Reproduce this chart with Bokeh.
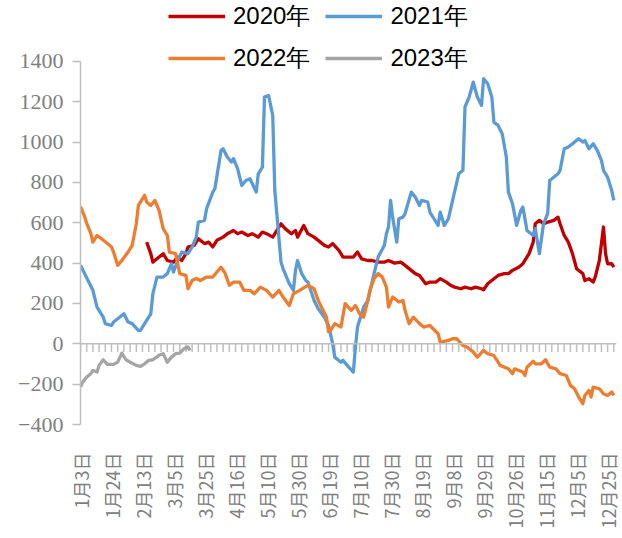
import math
from bokeh.plotting import figure
from bokeh.models import Range1d, FixedTicker, Legend, LegendItem, Span
from bokeh.embed import file_html
from bokeh.resources import INLINE

# ---- category labels (trading-day index of each label = position * 15) ----
date_labels = ["1月3日", "1月24日", "2月13日", "3月5日", "3月25日", "4月16日",
               "5月10日", "5月30日", "6月19日", "7月10日", "7月30日", "8月19日",
               "9月8日", "9月29日", "10月26日", "11月15日", "12月5日", "12月25日"]
label_step = 15
n_days = 259
y_ticks = [-400, -200, 0, 200, 400, 600, 800, 1000, 1200, 1400]

# ---- 2020 ----
day_2020 = [32, 34, 35, 38, 40, 42, 45, 47, 49, 51, 52, 55, 57, 58, 60, 62, 64, 66, 69, 71,
            74, 76, 78, 81, 83, 86, 88, 90, 93, 95, 97, 99, 102, 104, 105, 108, 110, 113, 115, 118,
            120, 122, 125, 127, 130, 132, 134, 136, 139, 141, 144, 147, 149, 152, 155, 157, 160, 162, 164, 167,
            169, 172, 174, 177, 179, 181, 184, 186, 189, 191, 194, 195, 197, 200, 202, 205, 207, 209, 212, 214,
            217, 219, 220, 222, 224, 226, 229, 231, 232, 234, 236, 238, 240, 243, 244, 246, 248, 249, 251, 253,
            254, 255, 257, 258]
val_2020 = [504, 447, 405, 430, 447, 413, 405, 430, 413, 447, 480, 488, 521, 513, 497, 504, 480, 513, 529, 546,
            562, 546, 554, 537, 546, 529, 554, 546, 529, 562, 595, 571, 546, 562, 529, 587, 546, 529, 513, 488,
            480, 497, 463, 430, 430, 430, 455, 421, 413, 413, 405, 405, 413, 400, 405, 389, 364, 348, 339, 298,
            306, 306, 323, 306, 290, 281, 273, 281, 273, 281, 273, 268, 298, 323, 339, 348, 348, 364, 380, 397,
            447, 504, 595, 612, 595, 603, 612, 628, 595, 537, 504, 447, 372, 348, 314, 323, 306, 331, 413, 579,
            447, 397, 397, 380]

# ---- 2021 ----
day_2021 = [0, 2, 4, 6, 8, 11, 12, 15, 16, 18, 21, 23, 25, 28, 29, 31, 34, 35, 37, 40,
            42, 44, 45, 47, 49, 52, 54, 56, 57, 60, 61, 64, 65, 68, 69, 71, 73, 74, 76, 78,
            80, 82, 85, 86, 88, 89, 91, 93, 94, 97, 98, 101, 103, 104, 105, 107, 109, 110, 113, 115,
            118, 120, 122, 123, 126, 127, 129, 132, 133, 134, 137, 139, 142, 144, 147, 148, 149, 150, 151, 153,
            154, 156, 157, 160, 162, 164, 165, 168, 169, 171, 173, 174, 176, 178, 180, 183, 185, 186, 188, 190,
            192, 194, 195, 197, 199, 200, 202, 204, 206, 207, 209, 211, 213, 214, 216, 219, 220, 222, 224, 226,
            227, 231, 232, 234, 236, 239, 241, 243, 244, 246, 248, 250, 252, 253, 255, 257, 258]
val_2021 = [389, 348, 306, 265, 182, 132, 100, 91, 108, 124, 149, 108, 100, 66, 66, 100, 149, 248, 331, 331,
            348, 397, 356, 413, 455, 447, 480, 529, 603, 612, 670, 752, 769, 959, 967, 926, 901, 918, 868, 785,
            810, 818, 752, 843, 876, 1223, 1231, 1132, 760, 405, 372, 298, 265, 364, 413, 348, 314, 306, 215, 174,
            132, 91, 0, -66, -91, -82, -107, -140, -16, 83, 182, 215, 348, 430, 488, 546, 579, 711, 628, 504,
            620, 628, 645, 752, 727, 686, 711, 703, 653, 620, 587, 653, 587, 620, 711, 843, 860, 1174, 1223, 1297,
            1223, 1182, 1314, 1289, 1223, 1099, 1083, 1041, 926, 752, 694, 587, 661, 678, 562, 537, 571, 447, 595, 645,
            810, 843, 860, 967, 976, 1000, 1017, 1000, 1008, 967, 992, 959, 909, 860, 826, 760, 711]

# ---- 2022 ----
day_2022 = [0, 2, 3, 5, 6, 8, 10, 13, 15, 16, 18, 20, 23, 25, 27, 28, 31, 32, 34, 36,
            38, 40, 42, 43, 46, 48, 51, 52, 54, 56, 58, 61, 64, 68, 70, 72, 74, 77, 79, 82,
            84, 87, 90, 93, 96, 98, 101, 103, 106, 110, 113, 115, 119, 120, 121, 123, 126, 128, 131, 133,
            135, 137, 139, 140, 142, 144, 146, 148, 149, 151, 154, 156, 157, 159, 161, 164, 166, 169, 173, 174,
            178, 180, 182, 185, 187, 190, 192, 195, 197, 200, 203, 207, 209, 210, 214, 215, 216, 219, 220, 223,
            225, 227, 230, 232, 235, 237, 239, 241, 243, 244, 246, 247, 248, 251, 253, 255, 257, 258]
val_2022 = [680, 630, 597, 547, 504, 537, 522, 497, 480, 455, 389, 413, 455, 488, 595, 686, 736, 703, 686, 711,
            661, 571, 537, 455, 447, 348, 339, 273, 314, 324, 314, 331, 331, 380, 349, 290, 306, 306, 265, 265,
            248, 281, 265, 232, 265, 232, 190, 248, 265, 290, 273, 215, 132, 60, 66, 100, 83, 199, 166, 190,
            149, 132, 215, 265, 323, 348, 331, 281, 182, 232, 207, 215, 166, 100, 132, 100, 83, 91, 50, 8,
            17, 25, 25, -8, -16, -41, -66, -33, -49, -58, -107, -124, -148, -124, -140, -157, -116, -86, -99, -99,
            -79, -116, -124, -148, -157, -206, -223, -264, -297, -256, -231, -264, -215, -223, -247, -256, -239, -256]

# ---- 2023 ----
day_2023 = [0, 1, 3, 5, 6, 8, 9, 11, 13, 16, 18, 20, 22, 24, 27, 29, 31, 33, 35, 38,
            40, 42, 44, 46, 48, 50, 52, 53]
val_2023 = [-214, -190, -165, -148, -132, -140, -107, -79, -102, -102, -91, -46, -79, -91, -107, -112, -99, -82, -79, -57,
            -49, -91, -66, -49, -46, -25, -16, -33]

series = [("2020年", day_2020, val_2020, "#C00000"),
          ("2021年", day_2021, val_2021, "#5B9BD5"),
          ("2022年", day_2022, val_2022, "#ED7D31"),
          ("2023年", day_2023, val_2023, "#A5A5A5")]

# frame reaches the top of the canvas so the legend (drawn inside it) is not clipped;
# the y range above 1400 only holds the legend
p = figure(width=622, height=538, output_backend="svg", toolbar_location=None,
           x_range=Range1d(0, 259.3), y_range=Range1d(-400, 1702),
           min_border_left=80, min_border_top=0, min_border_bottom=114, min_border_right=6)
p.outline_line_color = None
p.grid.visible = False
p.background_fill_color = "white"
p.border_fill_color = "white"

axis_gray = "#BFBFBF"
# zero line with small category tick marks hanging down
p.add_layout(Span(location=0, dimension="width", line_color=axis_gray, line_width=1.5))
tick_days = list(range(0, n_days, 3))
p.segment(x0=tick_days, y0=[0] * len(tick_days), x1=tick_days, y1=[-40] * len(tick_days),
          line_color=axis_gray, line_width=1.5)

renderers = {}
for name, d, v, c in series:
    renderers[name] = p.line(d, v, line_color=c, line_width=3.3, line_join="round")

# y axis
p.yaxis.ticker = FixedTicker(ticks=y_ticks)
p.yaxis.bounds = (y_ticks[0], y_ticks[-1])
p.yaxis.axis_line_color = axis_gray
p.yaxis.axis_line_width = 1.5
p.yaxis.major_tick_line_color = axis_gray
p.yaxis.major_tick_line_width = 1.5
p.yaxis.major_tick_out = 8
p.yaxis.major_tick_in = 0
p.yaxis.minor_tick_line_color = None
p.yaxis.major_label_text_font = "Liberation Serif"
p.yaxis.major_label_text_font_size = "22px"
p.yaxis.major_label_text_color = "#808080"
p.yaxis.major_label_standoff = 9

# x axis (labels only)
label_pos = [i * label_step for i in range(len(date_labels))]
p.xaxis.ticker = FixedTicker(ticks=label_pos)
p.xaxis.major_label_overrides = {pos: lab for pos, lab in zip(label_pos, date_labels)}
p.xaxis.major_label_orientation = math.pi / 2
p.xaxis.axis_line_color = None
p.xaxis.major_tick_line_color = None
p.xaxis.minor_tick_line_color = None
p.xaxis.major_label_standoff = 22
p.xaxis.major_label_text_font = "Noto Sans CJK SC"
p.xaxis.major_label_text_font_size = "18px"
p.xaxis.major_label_text_color = "#808080"

def make_legend(names, loc):
    lg = Legend(items=[LegendItem(label=n, renderers=[renderers[n]]) for n in names],
                location=loc, orientation="horizontal", border_line_color=None,
                background_fill_alpha=0, padding=0, margin=0, spacing=15,
                glyph_width=57, glyph_height=24, label_height=24, label_standoff=8,
                label_text_font="Liberation Sans", label_text_font_size="24px",
                label_text_color="black")
    return lg

p.add_layout(make_legend(["2020年", "2021年"], (88, 392)))
p.add_layout(make_legend(["2022年", "2023年"], (88, 350)))

open("out.html", "w").write(file_html(p, INLINE))
